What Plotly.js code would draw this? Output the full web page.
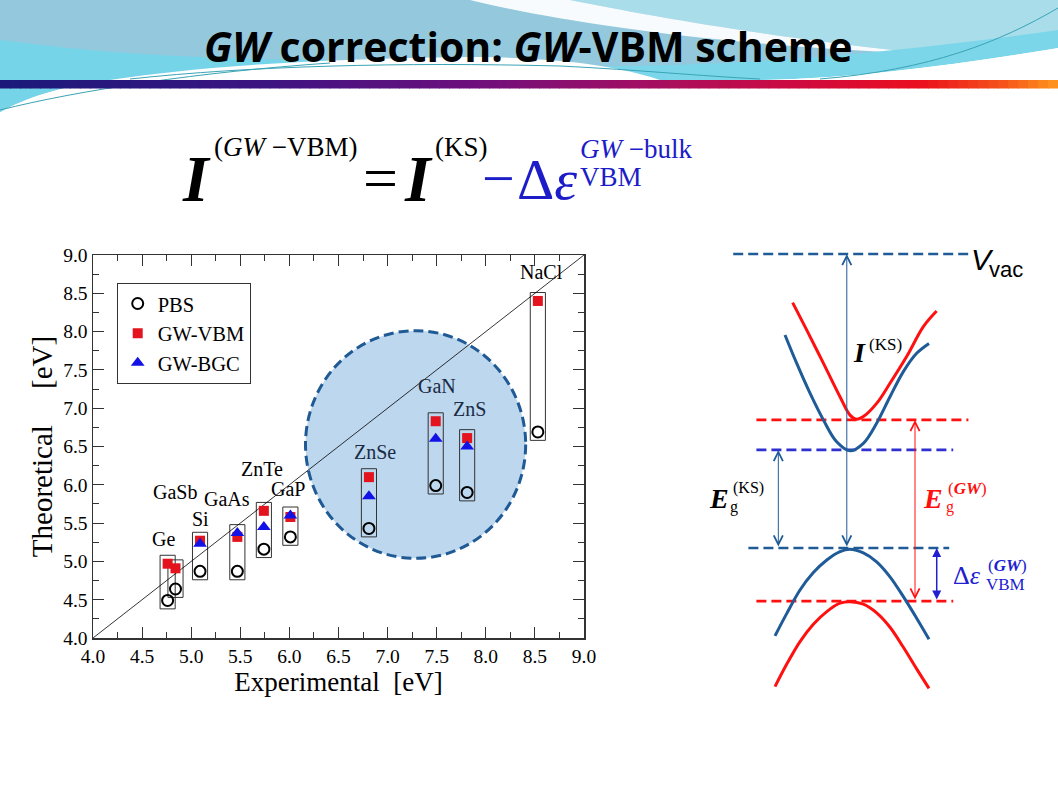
<!DOCTYPE html>
<html><head><meta charset="utf-8">
<script src="https://cdn.plot.ly/plotly-3.0.1.min.js"></script>
<style>html,body{margin:0;padding:0;background:#fff;}#chart{width:1058px;height:793px;}</style>
</head><body><div id="chart"></div>
<script>
// ---------------- data: scatter chart ----------------
const materials    = ['Ge','GaSb','Si','GaAs','ZnTe','GaP','ZnSe','GaN','ZnS','NaCl'];
const experimental = [4.76, 4.84, 5.09, 5.47, 5.74, 6.01, 6.81, 7.49, 7.81, 8.53];
const pbs          = [4.49, 4.64, 4.87, 4.87, 5.16, 5.32, 5.43, 5.99, 5.90, 6.69];
const gwVbm        = [4.97, 4.91, 5.27, 5.32, 5.66, 5.58, 6.10, 6.83, 6.61, 8.40];
const gwBgc        = [null, null, 5.23, 5.37, 5.45, 5.60, 5.85, 6.60, 6.50, null];
const seriesNames  = ['PBS', 'GW-VBM', 'GW-BGC'];
const axisTicks    = [4.0, 4.5, 5.0, 5.5, 6.0, 6.5, 7.0, 7.5, 8.0, 8.5, 9.0];
const tickLabels   = ['4.0','4.5','5.0','5.5','6.0','6.5','7.0','7.5','8.0','8.5','9.0'];
const diagonal     = [4, 9];

// ---------------- data: band diagram (k, energy; schematic units) ----------------
const kCbGw = [-0.717,-0.542,-0.333,-0.125,0,0.083,0.167,0.333,0.5,0.708,0.917,1.083];
const eCbGw = [8.18,7.27,6.16,5.04,4.43,4.29,4.38,4.82,5.49,6.38,7.38,7.9];
const kCbKs = [-0.8125,-0.667,-0.5,-0.333,-0.167,0,0.167,0.333,0.5,0.667,0.833,0.9875];
const eCbKs = [7.1,6.16,5.16,4.27,3.54,3.24,3.49,4.16,5.04,5.88,6.49,6.82];
const kVb   = [-0.9375,-0.79,-0.625,-0.458,-0.29,-0.125,0,0.167,0.333,0.5,0.667,0.833,0.9875];
const eVbKs = [-2.93,-2.18,-1.4,-0.82,-0.4,-0.12,-0.04,-0.16,-0.46,-0.96,-1.62,-2.34,-3.04];
const eVbGw = [-4.62,-3.87,-3.12,-2.54,-2.12,-1.84,-1.79,-1.87,-2.16,-2.64,-3.31,-4.03,-4.68];
const levelNames  = ['Vvac','CBM_GW','CBM_KS','VBM_KS','VBM_GW'];
const levelE      = [9.8, 4.27, 3.27, 0, -1.77];
const levelKStart = [-1.46, -1.17, -1.17, -1.27, -1.17];
const levelKEnd   = [1.48, 1.48, 1.29, 1.24, 1.29];
const arrowK      = [-0.04, -0.896, 0.8125, 1.084];   // I(KS), Eg(KS), Eg(GW), dEps
const arrowFrom   = [3, 3, 4, 4];                    // index into levels (bottom)
const arrowTo     = [0, 2, 1, 3];                    // index into levels (top)

// ---------------- helpers ----------------
const W = 1058, H = 793;
const PX = x => x / W, PY = y => 1 - y / H;
function pathPx(s){ return s.replace(/(-?\d+\.?\d*),(-?\d+\.?\d*)/g, (m,a,b)=> (a/W).toFixed(5)+','+(1-b/H).toFixed(5)); }
const SERIF = 'Liberation Serif, Times New Roman, serif';
const SANS = 'Liberation Sans, Arial, sans-serif';
function txt(text, x, y, size, color, extra){
  return Object.assign({xref:'paper', yref:'paper', x:PX(x), y:PY(y), text:text, showarrow:false,
    xanchor:'center', yanchor:'middle', font:{family:SERIF, size:size, color:color||'#000'}}, extra||{});
}

// ---------------- traces ----------------
const traces = [];
traces.push({x:diagonal, y:diagonal, mode:'lines', line:{color:'#000', width:0.8}, showlegend:false, hoverinfo:'skip', xaxis:'x', yaxis:'y'});
traces.push({x:experimental, y:pbs, name:seriesNames[0], mode:'markers', xaxis:'x', yaxis:'y',
  marker:{symbol:'circle-open', size:11, color:'#000', line:{width:2, color:'#000'}}});
traces.push({x:experimental, y:gwVbm, name:seriesNames[1], mode:'markers', xaxis:'x', yaxis:'y',
  marker:{symbol:'square', size:10, color:'#e3141e'}});
traces.push({x:experimental, y:gwBgc, name:seriesNames[2], mode:'markers', xaxis:'x', yaxis:'y',
  marker:{symbol:'triangle-up', size:12, color:'#1212e6'}});

// band diagram
const blue = '#1f5b97', red = '#ff1010', purple = '#3030d0';
const levelColors = [blue, red, purple, blue, red];
levelE.forEach((e,i)=>{
  traces.push({x:[levelKStart[i], levelKEnd[i]], y:[e,e], mode:'lines', xaxis:'x2', yaxis:'y2', showlegend:false, hoverinfo:'skip',
    line:{color:levelColors[i], width:2.6, dash:'10px,5px'}});
});
[[kCbGw,eCbGw,red],[kCbKs,eCbKs,blue],[kVb,eVbKs,blue],[kVb,eVbGw,red]].forEach(c=>{
  traces.push({x:c[0], y:c[1], mode:'lines', xaxis:'x2', yaxis:'y2', showlegend:false, hoverinfo:'skip',
    line:{color:c[2], width:3, shape:'spline', smoothing:1}});
});

// ---------------- shapes ----------------
const shapes = [];
// slide background decoration
shapes.push({type:'path', xref:'paper', yref:'paper', layer:'below', line:{width:0}, fillcolor:'#93c8dd',
  path:pathPx('M0,0 L1058,0 L1058,48 C950,62 850,78 760,80 L110,80 C60,86 25,98 0,112 Z')});
shapes.push({type:'path', xref:'paper', yref:'paper', layer:'below', line:{width:0}, fillcolor:'#76d4e9',
  path:pathPx('M0,40 C120,56 240,60 340,60 C240,66 160,72 110,80 C60,86 25,98 0,112 Z')});
shapes.push({type:'path', xref:'paper', yref:'paper', layer:'below', line:{width:0}, fillcolor:'#a9dde9',
  path:pathPx('M570,0 L1058,0 L1058,48 C1010,52 970,54 930,54 C760,36 650,16 570,0 Z')});
shapes.push({type:'path', xref:'paper', yref:'paper', layer:'below', line:{width:0}, fillcolor:'rgba(255,255,255,0.92)',
  path:pathPx('M470,0 C560,22 720,46 930,54 C760,36 650,16 570,0 Z')});
shapes.push({type:'path', xref:'paper', yref:'paper', layer:'below', line:{width:0}, fillcolor:'#7bd6ea',
  path:pathPx('M600,66 C750,66 900,52 1058,30 L1058,48 C960,64 860,78 760,80 L660,80 C640,74 620,70 600,66 Z')});
shapes.push({type:'path', xref:'paper', yref:'paper', layer:'below', line:{width:0}, fillcolor:'#ffffff',
  path:pathPx('M110,80 C200,66 330,58 480,57 C560,58 620,66 660,80 Z')});
shapes.push({type:'path', xref:'paper', yref:'paper', layer:'below', line:{width:0}, fillcolor:'#ffffff',
  path:pathPx('M760,80 C860,78 960,64 1058,48 L1058,80 Z')});
shapes.push({type:'path', xref:'paper', yref:'paper', layer:'below', line:{width:1, color:'#3aa3b5'},
  path:pathPx('M0,110 C80,90 200,72 330,63')});
shapes.push({type:'path', xref:'paper', yref:'paper', layer:'below', line:{width:1, color:'#3aa3b5'},
  path:pathPx('M130,79 C250,66 400,62 560,66 C640,70 700,76 760,79')});
shapes.push({type:'path', xref:'paper', yref:'paper', layer:'below', line:{width:1, color:'#3aa3b5'},
  path:pathPx('M820,79 C930,70 1000,42 1058,8')});
// gradient bar
const stops = [[0,[26,26,122]],[0.25,[60,20,130]],[0.45,[110,15,125]],[0.6,[160,15,100]],[0.75,[205,10,65]],[0.87,[235,15,30]],[0.95,[245,85,25]],[1,[255,150,30]]];
function gradColor(t){
  for(let i=1;i<stops.length;i++){ if(t<=stops[i][0]){ const a=stops[i-1], b=stops[i]; const f=(t-a[0])/(b[0]-a[0]);
    const c=a[1].map((v,j)=>Math.round(v+(b[1][j]-v)*f)); return 'rgb('+c.join(',')+')'; } }
  return 'rgb(255,150,30)';
}
const nSlices = 106;
for(let i=0;i<nSlices;i++){
  const x0=i*W/nSlices, x1=(i+1)*W/nSlices+0.8;
  shapes.push({type:'rect', xref:'paper', yref:'paper', layer:'below', line:{width:0}, fillcolor:gradColor((i+0.5)/nSlices),
    x0:PX(x0), x1:PX(x1), y0:PY(88.5), y1:PY(80)});
}
// highlight circle (below the traces, drawn before the boxes)
shapes.push({type:'circle', xref:'x', yref:'y', layer:'below', x0:6.164, x1:8.406, y0:5.04, y1:8.012,
  fillcolor:'#bdd7ee', line:{color:'#1f5a94', width:3, dash:'10px,5px'}});
// material boxes (computed from the data)
materials.forEach((m,i)=>{
  const vals=[pbs[i],gwVbm[i],gwBgc[i]].filter(v=>v!==null);
  shapes.push({type:'rect', xref:'x', yref:'y', layer:'below', line:{color:'#333', width:1},
    x0:experimental[i]-0.077, x1:experimental[i]+0.077, y0:Math.min(...vals)-0.11, y1:Math.max(...vals)+0.11});
});

// ---------------- annotations ----------------
const ann = [];
ann.push(txt('<b><i>GW</i> correction: <i>GW</i>-VBM scheme</b>', 528, 46, 41, '#000', {font:{family:'Open Sans, Noto Sans, sans-serif', size:41, color:'#000'}}));
// formula
const fb = '#1c1cc8';
ann.push(txt('<b><i>I</i></b>', 196, 178, 66));
ann.push(txt('(<i>GW</i> −VBM)', 212, 147, 27, '#000', {xanchor:'left'}));
ann.push(txt('=', 380, 178, 62));
ann.push(txt('<b><i>I</i></b>', 418, 178, 66));
ann.push(txt('(KS)', 433, 147, 27, '#000', {xanchor:'left'}));
ann.push(txt('−', 498, 178, 58, fb));
ann.push(txt('Δ<i>ε</i>', 547, 180, 58, fb));
ann.push(txt('<i>GW</i> −bulk', 578, 149, 27, fb, {xanchor:'left'}));
ann.push(txt('VBM', 578, 177, 27, fb, {xanchor:'left'}));
// material labels
const labelShift = {Ge:[-4,16], GaSb:[0,68], Si:[0,13], GaAs:[-10,26], ZnTe:[-2,33], GaP:[-2,18], ZnSe:[6,17], GaN:[1,27], ZnS:[2,21], NaCl:[4,21]};
const inCircle = {ZnSe:1, GaN:1, ZnS:1};
materials.forEach((m,i)=>{
  const vals=[pbs[i],gwVbm[i],gwBgc[i]].filter(v=>v!==null);
  ann.push({xref:'x', yref:'y', x:experimental[i], y:Math.max(...vals)+0.11, text:m, showarrow:false,
    xanchor:'center', yanchor:'middle', xshift:labelShift[m][0], yshift:labelShift[m][1],
    font:{family:SERIF, size:20, color: inCircle[m] ? '#1a2b44' : '#000'}});
});
// band-diagram arrows
const arrowStyle = [
  {color:blue, head:5, size:1.8, width:1},
  {color:blue, head:5, size:1.8, width:1},
  {color:red, head:5, size:1.8, width:1},
  {color:'#2020d0', head:2, size:1.2, width:1.5}
];
arrowK.forEach((k,i)=>{
  const s=arrowStyle[i];
  ann.push({xref:'x2', yref:'y2', axref:'x2', ayref:'y2', x:k, y:levelE[arrowTo[i]], ax:k, ay:levelE[arrowFrom[i]],
    text:'', showarrow:true, arrowside:'end+start', arrowhead:s.head, startarrowhead:s.head,
    arrowsize:s.size, startarrowsize:s.size, arrowwidth:s.width, arrowcolor:s.color, standoff:0, startstandoff:0});
});
// band-diagram labels
ann.push(txt('<i>V</i>', 982.5, 259, 30, '#000', {font:{family:SANS, size:30, color:'#000'}}));
ann.push(txt('vac', 1006, 269.6, 22, '#000', {font:{family:SANS, size:22, color:'#000'}}));
ann.push(txt('<b><i>I</i></b>', 859, 352.5, 28));
ann.push(txt('(KS)', 885.5, 344.5, 17));
ann.push(txt('<b><i>E</i></b>', 719, 498.5, 28));
ann.push(txt('(KS)', 748.5, 487.5, 16));
ann.push(txt('g', 733.5, 507.5, 16));
ann.push(txt('<b><i>E</i></b>', 933, 498.5, 28, red));
ann.push(txt('(<b><i>GW</i></b>)', 967, 488, 17, red));
ann.push(txt('g', 950, 507.5, 16, red));
ann.push(txt('Δ<i>ε</i>', 966.5, 575, 26, '#2020d0'));
ann.push(txt('(<b><i>GW</i></b>)', 1007.5, 565, 17, '#2020d0'));
ann.push(txt('VBM', 1005, 584.5, 17, '#2020d0'));

// ---------------- layout ----------------
const axisCommon = {
  range:[4,9], tickmode:'array', tickvals:axisTicks, ticktext:tickLabels,
  ticks:'inside', ticklen:11, tickwidth:1, tickcolor:'#333',
  minor:{tickmode:'linear', tick0:4, dtick:0.25, ticks:'inside', ticklen:6, tickwidth:1, tickcolor:'#333', showgrid:false},
  mirror:'ticks', showline:true, linecolor:'#333', linewidth:1.5,
  showgrid:false, zeroline:false, fixedrange:true,
  tickfont:{family:SERIF, size:19.5, color:'#000'}
};
const layout = {
  width:W, height:H, margin:{l:0, r:0, t:0, b:0},
  paper_bgcolor:'#fff', plot_bgcolor:'#fff',
  xaxis:Object.assign({}, axisCommon, {domain:[93/W, 584/W], anchor:'y',
    title:{text:'Experimental\u00a0\u00a0[eV]', font:{family:SERIF, size:27, color:'#000'}, standoff:6}}),
  yaxis:Object.assign({}, axisCommon, {domain:[1-638/H, 1-255/H], anchor:'x',
    title:{text:'Theoretical\u00a0\u00a0\u00a0\u00a0\u00a0[eV]', font:{family:SERIF, size:29, color:'#000'}, standoff:2}}),
  xaxis2:{domain:[690/W, 1010/W], range:[-2,2], visible:false, anchor:'y2', fixedrange:true},
  yaxis2:{domain:[1-700/H, 1-230/H], range:[-5.0667,10.6], visible:false, anchor:'x2', fixedrange:true},
  legend:{x:116.7/W, y:1-282.7/H, xanchor:'left', yanchor:'top', bgcolor:'#fff', bordercolor:'#333', borderwidth:1,
    font:{family:SERIF, size:20.5, color:'#000'}},
  showlegend:true,
  shapes:shapes, annotations:ann
};
Plotly.newPlot('chart', traces, layout, {displayModeBar:false, staticPlot:true});
</script></body></html>
